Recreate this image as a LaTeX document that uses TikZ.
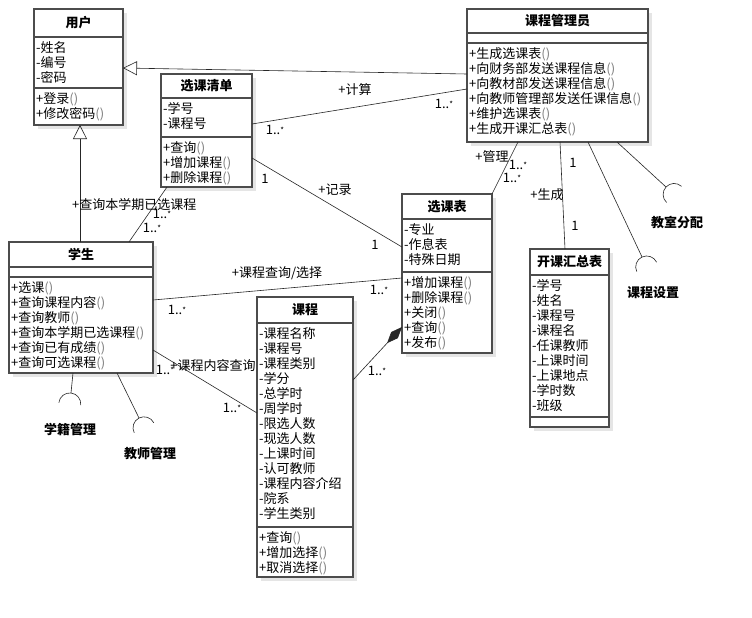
\documentclass[tikz,border=0pt]{standalone}
\usepackage{fontspec}
\setmainfont{Noto Sans CJK SC}
\usetikzlibrary{arrows.meta,shadows,calc}
\newcommand\pp{\textcolor{black!50}{()}}
\newcommand\mult{1..\raisebox{1.5pt}{\footnotesize *}}
\newcommand\umlbox[8]{%
  \node[cls, minimum width=#4pt, minimum height=#5pt] (#1) at (#2,#3) {};
  \draw[divl] (#1.west |- 0,#6) -- (#1.east |- 0,#6);
  \draw[divl] (#1.west |- 0,#7) -- (#1.east |- 0,#7);
  \node[ttl] (#1-t) at ({#2+#4/2},{(#3+#6)/2}) {#8};
}
\newcommand\socket[2]{\draw[sock] (#1) ++({#2}:11) ++({#2+90}:11) arc[start angle={#2+90}, end angle={#2+270}, radius=11];}
\begin{document}
\begin{tikzpicture}[x=1pt,y=-1pt,
  cls/.style={draw=black!70, line width=1.2pt, fill=white, inner sep=0, outer sep=0, anchor=north west,
    drop shadow={shadow xshift=4pt, shadow yshift=-4pt, fill=black!10, opacity=1}},
  divl/.style={draw=black!70, line width=1.2pt},
  ttl/.style={font=\fontsize{13}{15}\selectfont\bfseries, inner sep=0},
  txt/.style={anchor=north west, align=left, inner sep=0, font=\fontsize{13}{15}\selectfont},
  conn/.style={draw=black!85, line width=0.6pt},
  lbl/.style={inner sep=0, font=\fontsize{13}{15}\selectfont},
  sock/.style={draw=black!85, line width=0.6pt},
  gen/.style={conn, -{Triangle[open, length=14pt, width=14pt, line width=0.6pt]}},
  comp/.style={conn, -{Diamond[length=22pt, width=9pt]}},
]
\useasboundingbox[fill=white] (0,0) rectangle (752,618);

% classes
\umlbox{user}{34}{9}{89}{116}{37}{88}{用户}
\node[txt] (user-a) at (36,41) {-姓名\\-编号\\-密码};
\node[txt] (user-o) at (36,92) {+登录\pp\\+修改密码\pp};

\umlbox{mgr}{467}{9}{181}{133}{33}{43}{课程管理员}
\node[txt] (mgr-o) at (469,47) {+生成选课表\pp\\+向财务部发送课程信息\pp\\+向教材部发送课程信息\pp\\+向教师管理部发送任课信息\pp\\+维护选课表\pp\\+生成开课汇总表\pp};

\umlbox{list}{161}{74}{91}{113}{98}{137}{选课清单}
\node[txt] (list-a) at (163,102) {-学号\\-课程号};
\node[txt] (list-o) at (163,141) {+查询\pp\\+增加课程\pp\\+删除课程\pp};

\umlbox{stu}{9}{242}{144}{131}{267}{277}{学生}
\node[txt] (stu-o) at (11,281) {+选课\pp\\+查询课程内容\pp\\+查询教师\pp\\+查询本学期已选课程\pp\\+查询已有成绩\pp\\+查询可选课程\pp};

\umlbox{tab}{402}{194}{90}{159}{219}{272}{选课表}
\node[txt] (tab-a) at (404,223) {-专业\\-作息表\\-特殊日期};
\node[txt] (tab-o) at (404,276) {+增加课程\pp\\+删除课程\pp\\+关闭\pp\\+查询\pp\\+发布\pp};

\umlbox{crs}{257}{297}{96}{280}{323}{527}{课程}
\node[txt] (crs-a) at (259,327) {-课程名称\\-课程号\\-课程类别\\-学分\\-总学时\\-周学时\\-限选人数\\-现选人数\\-上课时间\\-认可教师\\-课程内容介绍\\-院系\\-学生类别};
\node[txt] (crs-o) at (259,531) {+查询\pp\\+增加选择\pp\\+取消选择\pp};

\umlbox{sum}{530}{249}{79}{178}{275}{417}{开课汇总表}
\node[txt] (sum-a) at (532,279) {-学号\\-姓名\\-课程号\\-课程名\\-任课教师\\-上课时间\\-上课地点\\-学时数\\-班级};

% interface points
\coordinate (kcsz) at (642,257);
\coordinate (jsfp) at (666,187);
\coordinate (xjgl) at (71,393);
\coordinate (jsgl) at (139,418);

% connectors
\draw[gen] (mgr.west |- 0,74) -- (user.east |- 0,68);
\draw[gen] (stu.north -| 80,0) -- (user.south -| 80,0);
\draw[conn] (stu.north -| 129,0) -- (list.south -| 167,0);
\draw[conn] (list.east |- 0,124) -- (mgr.west |- 0,89);
\draw[conn] (list.east |- 0,158) -- (tab.west |- 0,247);
\draw[conn] (stu.east |- 0,300) -- (tab.west |- 0,278);
\draw[conn] (stu.east |- 0,350) -- (crs.west |- 0,413);
\draw[comp] (crs.east |- 0,380) -- (tab.west |- 0,327);
\draw[conn] (mgr.south -| 518,0) -- (tab.north east);
\draw[conn] (mgr.south -| 560,0) -- (sum.north -| 565,0);
\draw[conn] (mgr.south -| 588,0) -- (kcsz);
\draw[conn] (mgr.south -| 617,0) -- (jsfp);
\draw[conn] (stu.south -| 73,0) -- (xjgl);
\draw[conn] (stu.south -| 117,0) -- (jsgl);

% sockets
\socket{kcsz}{64.8}
\socket{jsfp}{42.6}
\socket{xjgl}{96.3}
\socket{jsgl}{62.9}

% interface labels
\node[ttl] (xjgl-l) at (70,430) {学籍管理};
\node[ttl] (jsgl-l) at (150,454) {教师管理};
\node[ttl] (jsfp-l) at (677,222) {教室分配};
\node[ttl] (kcsz-l) at (653,293) {课程设置};

% association labels
\node[lbl] (l1) at (355,90) {+计算};
\node[lbl] (m1) at (275,130) {\mult};
\node[lbl] (m2) at (444,104) {\mult};
\node[lbl] (m3) at (265,179) {1};
\node[lbl] (l2) at (335,190) {+记录};
\node[lbl] (m4) at (375,245) {1};
\node[lbl] (l3) at (277,273) {+课程查询/选择};
\node[lbl] (m5) at (177,310) {\mult};
\node[lbl] (m6) at (379,290) {\mult};
\node[lbl] (l4) at (213,366) {+课程内容查询};
\node[lbl] (m7) at (165,370) {\mult};
\node[lbl] (m8) at (232,408) {\mult};
\node[lbl] (m9) at (377,371) {\mult};
\node[lbl, anchor=west] (l5) at (72,205) {+查询本学期已选课程};
\node[lbl] (m10) at (162,214) {\mult};
\node[lbl] (m11) at (152,228) {\mult};
\node[lbl] (l6) at (492,157) {+管理};
\node[lbl] (m12) at (518,165) {\mult};
\node[lbl] (m13) at (512,178) {\mult};
\node[lbl] (m14) at (573,163) {1};
\node[lbl] (l7) at (547,195) {+生成};
\node[lbl] (m15) at (575,226) {1};
\end{tikzpicture}
\end{document}
